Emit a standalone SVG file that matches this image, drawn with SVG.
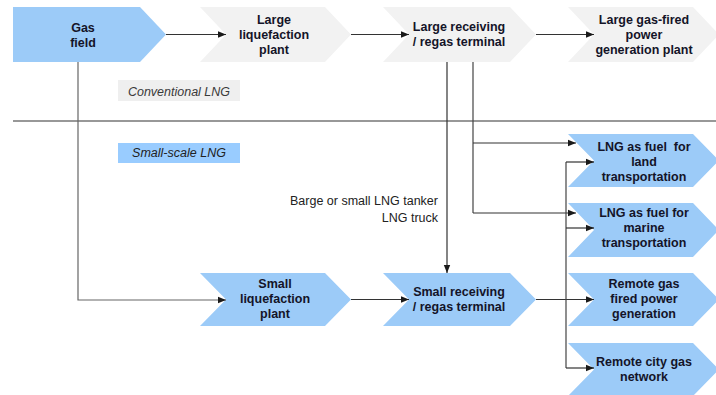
<svg xmlns="http://www.w3.org/2000/svg" width="716" height="395" viewBox="0 0 716 395">
<defs>
<marker id="ah" viewBox="0 0 8 8" refX="8" refY="4" markerWidth="8" markerHeight="8" markerUnits="userSpaceOnUse" orient="auto">
<path d="M0,0.8 L8,4 L0,7.2 z" fill="#1a1a1a"/>
</marker>
<style>
.blue{fill:#9ccbf8;}
.gray{fill:#f2f2f2;}
.lbl{font-family:"Liberation Sans",Arial,sans-serif;font-size:12.5px;font-weight:bold;fill:#141428;text-anchor:middle;}
.tag{font-family:"Liberation Sans",Arial,sans-serif;font-size:12.5px;font-style:italic;fill:#3a3a3a;text-anchor:middle;}
.note{font-family:"Liberation Sans",Arial,sans-serif;font-size:12.5px;fill:#222;text-anchor:end;}
.ln{fill:none;stroke:#444;stroke-width:1.2;}
.arr{fill:none;stroke:#333;stroke-width:1.2;marker-end:url(#ah);}
</style>
</defs>
<rect width="716" height="395" fill="#ffffff"/>
<line x1="13" y1="121" x2="716" y2="121" stroke="#333" stroke-width="1.2"/>
<g id="conventional-tag"><rect x="118" y="80" width="122" height="21" fill="#efefef"/><text class="tag" x="179" y="96">Conventional LNG</text></g>
<g id="smallscale-tag"><rect x="118" y="143" width="122" height="20" fill="#99ccff"/><text class="tag" x="179" y="157" style="fill:#222">Small-scale LNG</text></g>
<g id="gas-field"><polygon class="blue" points="13,7 140,7 166,34.5 140,62 13,62"/><text class="lbl" x="83" y="32">Gas</text><text class="lbl" x="83" y="47">field</text></g>
<g id="large-liquefaction"><polygon class="gray" points="200,7 325,7 351,34.5 325,62 200,62 226,34.5"/><text class="lbl" x="274" y="24">Large</text><text class="lbl" x="274" y="39">liquefaction</text><text class="lbl" x="274" y="54">plant</text></g>
<g id="large-receiving"><polygon class="gray" points="383,7 510,7 536,34.5 510,62 383,62 409,34.5"/><text class="lbl" x="459" y="31">Large receiving</text><text class="lbl" x="459" y="46">/ regas terminal</text></g>
<g id="large-power"><polygon class="gray" points="568,7 693,7 719,34.5 693,62 568,62 594,34.5"/><text class="lbl" x="644" y="24">Large gas-fired</text><text class="lbl" x="644" y="39">power</text><text class="lbl" x="644" y="54">generation plant</text></g>
<g id="small-liquefaction"><polygon class="blue" points="200,273 325,273 351,299.5 325,326 200,326 226,299.5"/><text class="lbl" x="275" y="288">Small</text><text class="lbl" x="275" y="303">liquefaction</text><text class="lbl" x="275" y="318">plant</text></g>
<g id="small-receiving"><polygon class="blue" points="383,273 510,273 536,299.5 510,326 383,326 409,299.5"/><text class="lbl" x="459" y="296">Small receiving</text><text class="lbl" x="459" y="311">/ regas terminal</text></g>
<g id="land-fuel"><polygon class="blue" points="568,134 693,134 719,160.5 693,187 568,187 594,160.5"/><text class="lbl" x="644" y="151" xml:space="preserve">LNG as fuel  for</text><text class="lbl" x="644" y="166">land</text><text class="lbl" x="644" y="181">transportation</text></g>
<g id="marine-fuel"><polygon class="blue" points="568,203 693,203 719,230 693,257 568,257 594,230"/><text class="lbl" x="644" y="217">LNG as fuel for</text><text class="lbl" x="644" y="232">marine</text><text class="lbl" x="644" y="247">transportation</text></g>
<g id="remote-power"><polygon class="blue" points="568,273 693,273 719,299.5 693,326 568,326 594,299.5"/><text class="lbl" x="644" y="288">Remote gas</text><text class="lbl" x="644" y="303">fired power</text><text class="lbl" x="644" y="318">generation</text></g>
<g id="city-gas"><polygon class="blue" points="568,343 693,343 719,369.5 693,396 568,396 594,369.5"/><text class="lbl" x="644" y="366">Remote city gas</text><text class="lbl" x="644" y="381">network</text></g>
<g id="transport-note"><text class="note" x="438" y="205">Barge or small LNG tanker</text><text class="note" x="438" y="222">LNG truck</text></g>
<g id="connectors">
<line class="arr" x1="166" y1="34.5" x2="226" y2="34.5"/>
<line class="arr" x1="351" y1="34.5" x2="409" y2="34.5"/>
<line class="arr" x1="536" y1="34.5" x2="594" y2="34.5"/>
<polyline class="arr" points="78,62 78,300 226,300" style="stroke:#666"/>
<line class="arr" x1="447" y1="62" x2="447" y2="273"/>
<polyline class="ln" points="473,62 473,213"/>
<line class="arr" x1="473" y1="143" x2="576" y2="143"/>
<line class="arr" x1="473" y1="213" x2="576" y2="213"/>
<line class="arr" x1="351" y1="299.5" x2="409" y2="299.5"/>
<line class="arr" x1="536" y1="299.5" x2="594" y2="299.5"/>
<line class="ln" x1="566" y1="162" x2="566" y2="368"/>
<line class="arr" x1="566" y1="162" x2="594" y2="162"/>
<line class="arr" x1="566" y1="228" x2="594" y2="228"/>
<line class="arr" x1="566" y1="368" x2="594" y2="368"/>
</g>
</svg>
